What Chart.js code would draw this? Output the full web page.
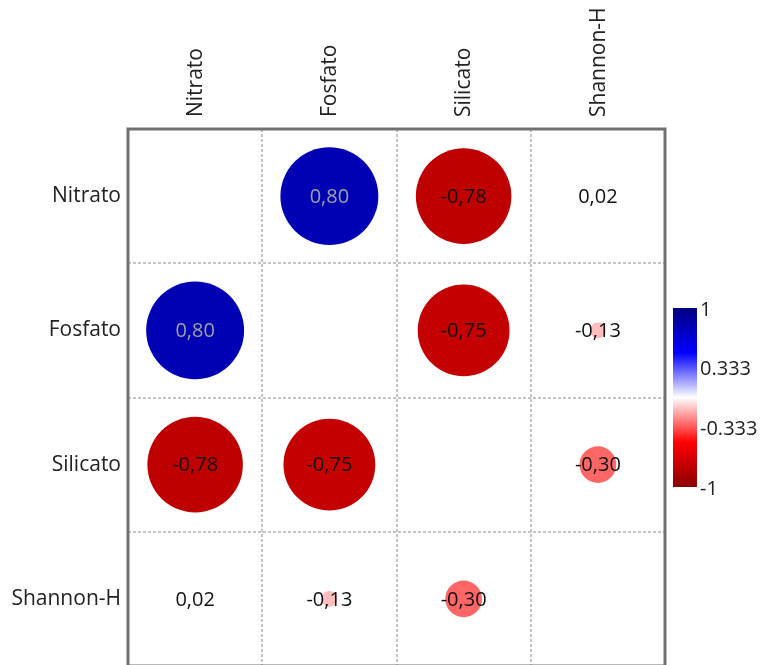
<!DOCTYPE html>
<html>
<head>
<meta charset="utf-8">
<script src="https://cdn.jsdelivr.net/npm/chart.js@4.4.1/dist/chart.umd.min.js"></script>
<style>
html, body { margin: 0; padding: 0; background: #fff; overflow: hidden; }
#wrap { width: 764px; height: 680px; }
</style>
</head>
<body>
<div id="wrap"><canvas id="corrChart" width="764" height="680"></canvas></div>
<script>
var variables = ["Nitrato", "Fosfato", "Silicato", "Shannon-H"];

// correlation rows (diagonal left empty)
var nitrato  = [null, 0.80, -0.78, 0.02];
var fosfato  = [0.80, null, -0.75, -0.13];
var silicato = [-0.78, -0.75, null, -0.30];
var shannon  = [0.02, -0.13, -0.30, null];

var colorbarTicks = [1, 0.333, -0.333, -1];
var colorbarLabels = ["1", "0.333", "-0.333", "-1"];

var FONT = "'Open Sans', 'Noto Sans', sans-serif";
var CELL = 537 / 4; // plot is 537px square

// diverging scale dark red -> red -> white -> blue -> navy
var colorStops = [
    [-1, [139, 0, 0]],
    [-0.5, [255, 0, 0]],
    [0, [255, 255, 255]],
    [0.5, [0, 0, 255]],
    [1, [0, 0, 130]]
];

function valueColor(v) {
    for (var i = 0; i < colorStops.length - 1; i++) {
        var a = colorStops[i], b = colorStops[i + 1];
        if (v >= a[0] && v <= b[0]) {
            var t = (v - a[0]) / (b[0] - a[0]);
            var c = a[1].map(function (ch, k) { return Math.round(ch + t * (b[1][k] - ch)); });
            return "rgb(" + c.join(",") + ")";
        }
    }
    return "#fff";
}

var rows = [nitrato, fosfato, silicato, shannon];
var points = [];
rows.forEach(function (row, i) {
    row.forEach(function (v, j) {
        if (v === null) return;
        points.push({ x: variables[j], y: variables[i], v: v });
    });
});

// frame around the plot
var framePlugin = {
    id: "frame",
    beforeDatasetsDraw: function (chart) {
        var a = chart.chartArea, ctx = chart.ctx;
        ctx.save();
        ctx.strokeStyle = "#707070";
        ctx.lineWidth = 3;
        ctx.strokeRect(a.left, a.top, a.right - a.left, a.bottom - a.top);
        ctx.restore();
    }
};

// value text inside each cell
var valueLabels = {
    id: "valueLabels",
    afterDatasetsDraw: function (chart) {
        var ctx = chart.ctx;
        var meta = chart.getDatasetMeta(0);
        ctx.save();
        ctx.font = "20px " + FONT;
        ctx.textAlign = "center";
        ctx.textBaseline = "middle";
        meta.data.forEach(function (el, i) {
            var v = points[i].v;
            ctx.fillStyle = v >= 0.5 ? "#a0a0a0" : "#111";
            ctx.fillText(v.toFixed(2).replace(".", ","), el.x, el.y + 1);
        });
        ctx.restore();
    }
};

// colour bar on the right
var colorBar = {
    id: "colorBar",
    afterDraw: function (chart) {
        var ctx = chart.ctx;
        var x = 673, y = 308, w = 24, h = 179;
        var grad = ctx.createLinearGradient(0, y, 0, y + h);
        colorStops.forEach(function (s) {
            grad.addColorStop((1 - s[0]) / 2, valueColor(s[0]));
        });
        ctx.save();
        ctx.fillStyle = grad;
        ctx.fillRect(x, y, w, h);
        ctx.fillStyle = "#222";
        ctx.font = "20px " + FONT;
        ctx.textAlign = "left";
        ctx.textBaseline = "middle";
        colorbarTicks.forEach(function (t, i) {
            var ty = y + (1 - t) / 2 * h;
            ctx.fillText(colorbarLabels[i], x + w + 3, ty + 2);
        });
        ctx.restore();
    }
};

var gridOpts = { offset: true, drawTicks: false, color: "#c4c4c4", lineWidth: 2 };
var borderOpts = { display: false, dash: [3, 2] };

var ctx = document.getElementById("corrChart").getContext("2d");
var myChart = new Chart(ctx, {
    type: "bubble",
    data: {
        datasets: [{
            data: points,
            borderWidth: 0,
            backgroundColor: function (c) { return c.raw ? valueColor(c.raw.v) : "#fff"; },
            radius: function (c) { return c.raw ? Math.abs(c.raw.v) * CELL * 0.456 : 0; }
        }]
    },
    options: {
        responsive: false,
        animation: false,
        events: [],
        layout: { autoPadding: false, padding: { top: 0, left: 0, right: 99, bottom: 14 } },
        plugins: { legend: { display: false }, tooltip: { enabled: false } },
        scales: {
            x: {
                type: "category",
                labels: variables,
                position: "top",
                offset: true,
                grid: gridOpts,
                border: borderOpts,
                ticks: {
                    minRotation: 90, maxRotation: 90, autoSkip: false, padding: 12, labelOffset: 26,
                    color: "#222", font: { family: FONT, size: 21 }
                },
                afterFit: function (s) { s.height = 129; s.paddingLeft = 0; s.paddingRight = 0; }
            },
            y: {
                type: "category",
                labels: variables,
                offset: true,
                grid: gridOpts,
                border: borderOpts,
                ticks: {
                    autoSkip: false, padding: 7,
                    color: "#222", font: { family: FONT, size: 21 }
                },
                afterFit: function (s) { s.width = 128; s.paddingTop = 0; s.paddingBottom = 0; }
            }
        }
    },
    plugins: [framePlugin, valueLabels, colorBar]
});
</script>
</body>
</html>
